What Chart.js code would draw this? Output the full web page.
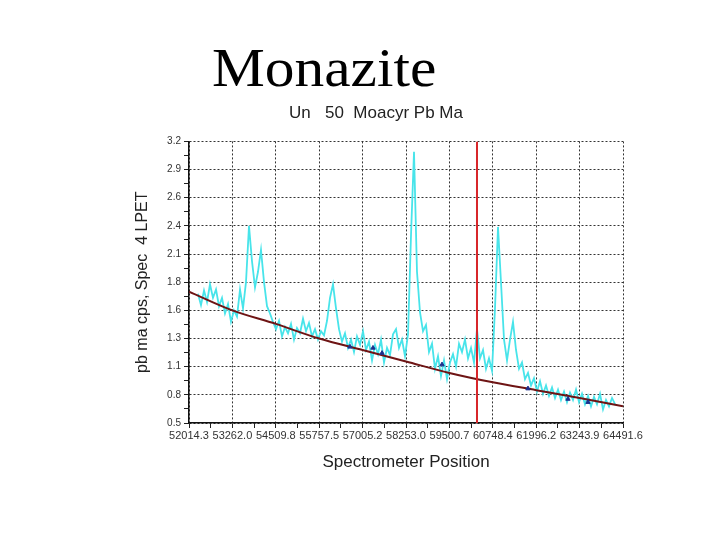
<!DOCTYPE html>
<html lang="en">
<head>
    <meta charset="UTF-8">
    <title>Monazite</title>
    <script src="https://cdn.jsdelivr.net/npm/chart.js"></script>
    <style>
        html, body { margin: 0; padding: 0; background: #fff; }
        #wrap { position: relative; width: 720px; height: 540px; }
        canvas { position: absolute; left: 0; top: 0; }
        /* slide heading, stretched a little like the original */
        #titulo {
            position: absolute; left: 212px; top: 41px;
            font-family: "Liberation Serif", "Times New Roman", serif;
            font-size: 54px; line-height: 1; color: #000;
            transform: scaleX(1.1); transform-origin: left top;
        }
    </style>
</head>
<body>
<div id="wrap">
    <canvas id="grafico" width="720" height="540"></canvas>
    <div id="titulo">Monazite</div>
</div>
<script>
    // axis ticks as printed on the chart
    const xTickLabels = ['52014.3', '53262.0', '54509.8', '55757.5', '57005.2', '58253.0',
                         '59500.7', '60748.4', '61996.2', '63243.9', '64491.6'];
    const yTickLabels = ['0.5', '0.8', '1.1', '1.3', '1.6', '1.8', '2.1', '2.4', '2.6', '2.9', '3.2'];
    const yMin = 0.5;
    const yMax = 3.2;

    // measured spectrum (cyan trace)
    const specPos = [52273,52359,52446,52532,52618,52704,52791,52877,52963,53049,
        53136,53222,53308,53394,53481,53567,53653,53739,53826,53912,
        53998,54084,54171,54257,54343,54429,54516,54602,54688,54774,
        54861,54947,55033,55119,55206,55292,55378,55464,55551,55637,
        55723,55809,55896,55982,56068,56154,56241,56327,56413,56499,
        56586,56672,56758,56844,56931,57017,57103,57189,57276,57362,
        57448,57534,57621,57707,57793,57879,57966,58052,58138,58224,
        58311,58397,58483,58569,58656,58742,58828,58914,59001,59087,
        59173,59259,59346,59432,59518,59604,59691,59777,59863,59949,
        60036,60122,60208,60294,60381,60467,60553,60639,60726,60812,
        60898,60984,61071,61157,61243,61329,61416,61502,61588,61674,
        61761,61847,61933,62019,62106,62192,62278,62364,62451,62537,
        62623,62709,62796,62882,62968,63054,63141,63227,63313,63399,
        63486,63572,63658,63744,63831,63917,64003,64089,64176,64262];
    const specCps = [1.74,1.63,1.77,1.66,1.83,1.70,1.78,1.62,1.70,1.55,
        1.64,1.47,1.58,1.52,1.78,1.60,1.85,2.39,2.05,1.80,
        1.95,2.16,1.85,1.62,1.55,1.47,1.40,1.48,1.33,1.42,
        1.36,1.45,1.30,1.41,1.36,1.50,1.38,1.46,1.33,1.40,
        1.30,1.38,1.34,1.48,1.70,1.83,1.60,1.40,1.28,1.36,
        1.22,1.30,1.18,1.33,1.25,1.38,1.20,1.28,1.10,1.25,
        1.16,1.30,1.08,1.22,1.15,1.35,1.40,1.22,1.30,1.14,
        1.35,2.30,3.10,1.95,1.56,1.38,1.44,1.18,1.26,1.02,
        1.14,0.95,1.10,0.92,1.08,1.16,1.04,1.26,1.18,1.30,
        1.12,1.22,1.08,1.40,1.12,1.20,1.02,1.12,1.00,1.60,
        2.38,1.85,1.30,1.10,1.30,1.47,1.20,1.02,1.08,0.92,
        0.98,0.86,0.93,0.80,0.90,0.78,0.86,0.76,0.84,0.74,
        0.82,0.72,0.80,0.70,0.79,0.72,0.82,0.70,0.78,0.68,
        0.76,0.66,0.75,0.68,0.78,0.63,0.72,0.66,0.74,0.68];

    // background fit curve, read at the major x ticks
    const fitCps = [1.76, 1.58, 1.45, 1.31, 1.20, 1.09, 0.98, 0.89, 0.815, 0.74, 0.66];

    // background points (dark blue marks)
    const bgPos = [56643, 57304, 57563, 59288, 61760, 62910, 63485];
    const bgCps = [1.23, 1.22, 1.17, 1.06, 0.83, 0.73, 0.70];

    // peak position marker (red vertical line)
    const markerPos = 60294;

    const xTickValues = xTickLabels.map(Number);
    const fonte = 'Liberation Sans, Arial, sans-serif';

    // major ticks plus one minor tick between each pair
    function ticksX(scale) {
        const t = [];
        xTickValues.forEach((v, i) => {
            t.push({ value: v });
            if (i < xTickValues.length - 1) t.push({ value: (v + xTickValues[i + 1]) / 2 });
        });
        scale.ticks = t;
    }
    function ticksY(scale) {
        const t = [];
        const n = (yTickLabels.length - 1) * 2;
        for (let i = 0; i <= n; i++) t.push({ value: yMin + i * (yMax - yMin) / n });
        scale.ticks = t;
    }

    const ctx = document.getElementById('grafico').getContext('2d');
    new Chart(ctx, {
        type: 'line',
        data: {
            datasets: [
                {
                    label: 'marker',
                    data: [{ x: markerPos, y: yMin }, { x: markerPos, y: yMax }],
                    borderColor: '#d8262a',
                    borderWidth: 2,
                    pointRadius: 0,
                    order: 0
                },
                {
                    label: 'bg points',
                    type: 'scatter',
                    data: bgPos.map((x, i) => ({ x: x, y: bgCps[i] })),
                    backgroundColor: '#1c2f8c',
                    borderColor: '#1c2f8c',
                    pointStyle: 'triangle',
                    pointRadius: 2.5,
                    order: 1
                },
                {
                    label: 'fit',
                    data: xTickValues.map((x, i) => ({ x: x, y: fitCps[i] })),
                    borderColor: '#6e1414',
                    borderWidth: 2,
                    pointRadius: 0,
                    cubicInterpolationMode: 'monotone',
                    order: 2
                },
                {
                    label: 'spectrum',
                    data: specPos.map((x, i) => ({ x: x, y: specCps[i] })),
                    borderColor: '#48e4ea',
                    borderWidth: 1.8,
                    pointRadius: 0,
                    tension: 0,
                    order: 3
                }
            ]
        },
        options: {
            responsive: false,
            animation: false,
            layout: { padding: { left: 129, right: 97, top: 100, bottom: 62 } },
            plugins: {
                legend: { display: false },
                tooltip: { enabled: false },
                title: {
                    display: true,
                    text: 'Un   50  Moacyr Pb Ma',
                    color: '#222',
                    font: { family: fonte, size: 17, weight: 'normal' },
                    padding: { top: 3, bottom: 18 }
                }
            },
            scales: {
                x: {
                    type: 'linear',
                    min: xTickValues[0],
                    max: xTickValues[xTickValues.length - 1],
                    afterBuildTicks: ticksX,
                    afterFit: s => { s.height = 55; },
                    ticks: {
                        autoSkip: false,
                        maxRotation: 0,
                        padding: 1,
                        color: '#333',
                        font: { family: fonte, size: 11 },
                        callback: (v, i) => (i % 2 ? '' : xTickLabels[i / 2])
                    },
                    grid: {
                        color: c => (c.index % 2 ? 'rgba(0,0,0,0)' : '#333'),
                        tickColor: '#222',
                        tickLength: 5
                    },
                    border: { color: '#111', width: 1.5, dash: [2, 2] },
                    title: {
                        display: true,
                        text: 'Spectrometer Position',
                        color: '#222',
                        font: { family: fonte, size: 17 },
                        padding: { top: 0, bottom: 5 }
                    }
                },
                y: {
                    type: 'linear',
                    min: yMin,
                    max: yMax,
                    afterBuildTicks: ticksY,
                    afterFit: s => { s.width = 60; },
                    ticks: {
                        autoSkip: false,
                        padding: 3,
                        color: '#333',
                        font: { family: fonte, size: 10 },
                        callback: (v, i) => (i % 2 ? '' : yTickLabels[i / 2])
                    },
                    grid: {
                        color: c => (c.index % 2 ? 'rgba(0,0,0,0)' : '#333'),
                        tickColor: '#222',
                        tickLength: 5
                    },
                    border: { color: '#111', width: 1.5, dash: [2, 2] },
                    title: {
                        display: true,
                        text: 'pb ma cps, Spec  4 LPET',
                        color: '#222',
                        font: { family: fonte, size: 16 },
                        padding: { top: 4, bottom: 0 }
                    }
                }
            }
        }
    });
</script>
</body>
</html>
